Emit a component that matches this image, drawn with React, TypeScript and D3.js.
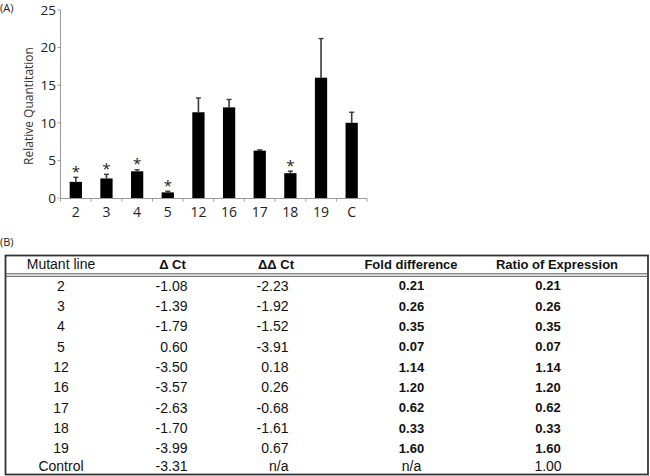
import React from 'react'
import * as d3 from 'd3'

// panel A: relative quantitation per mutant line
const categories = ['2', '3', '4', '5', '12', '16', '17', '18', '19', 'C']
const quantValues = [2.15, 2.6, 3.55, 0.75, 11.4, 12.05, 6.3, 3.3, 16.0, 10.0]
const quantErrors = [0.6, 0.55, 0.2, 0.15, 1.9, 1.05, 0.1, 0.27, 5.2, 1.4]
const significant = ['2', '3', '4', '5', '18']
const yTicks = [0, 5, 10, 15, 20, 25]

// panel B: table
const tableHeaders = ['Mutant line', 'Δ Ct', 'ΔΔ Ct', 'Fold difference', 'Ratio of Expression']
const mutantLines = ['2', '3', '4', '5', '12', '16', '17', '18', '19', 'Control']
const deltaCt = ['-1.08', '-1.39', '-1.79', '0.60', '-3.50', '-3.57', '-2.63', '-1.70', '-3.99', '-3.31']
const deltaDeltaCt = ['-2.23', '-1.92', '-1.52', '-3.91', '0.18', '0.26', '-0.68', '-1.61', '0.67', 'n/a']
const foldDifference = ['0.21', '0.26', '0.35', '0.07', '1.14', '1.20', '0.62', '0.33', '1.60', 'n/a']
const ratioOfExpression = ['0.21', '0.26', '0.35', '0.07', '1.14', '1.20', '0.62', '0.33', '1.60', '1.00']

const CHART_FONT = '"Open Sans", sans-serif'
const TABLE_FONT = '"Liberation Sans", Arial, sans-serif'

export default function App() {
  const width = 650
  const height = 476

  // chart scales
  const x = d3.scaleBand<string>()
    .domain(categories)
    .range([60.5, 367])
    .paddingInner(0.6)
    .paddingOuter(0.3)
  const y = d3.scaleLinear().domain([0, 25]).range([198, 10])
  const step = x.step()
  const boundaries = d3.range(categories.length + 1).map(i => 60.5 + i * step)

  // table layout
  const tableLeft = 5.5
  const tableRight = 648
  const tableTop = 255.5
  const tableBottom = 474.5
  const rowY = d3.scaleLinear().domain([0, 8]).range([285.7, 448.3])
  const rowPos = (i: number) => (i < 9 ? rowY(i) : rowY(8) + 17.4)

  const columns = [
    { hx: 61, vx: 61, anchor: 'middle', values: mutantLines, bold: false },
    { hx: 172.5, vx: 187.5, anchor: 'end', values: deltaCt, bold: false },
    { hx: 276, vx: 288.5, anchor: 'end', values: deltaDeltaCt, bold: false },
    { hx: 411, vx: 411.5, anchor: 'middle', values: foldDifference, bold: true },
    { hx: 557, vx: 548, anchor: 'middle', values: ratioOfExpression, bold: true },
  ]

  return (
    <svg
      width={width}
      height={height}
      style={{ position: 'absolute', left: 0, top: 0, background: '#fff' }}
    >
      {/* panel label A */}
      <text x={0} y={12} fontFamily={CHART_FONT} fontSize={11} fill="#222">(A)</text>

      {/* y axis */}
      <line x1={60.5} x2={60.5} y1={y(25)} y2={y(0)} stroke="#9a9a9a" strokeWidth={1} />
      {yTicks.map(t => (
        <g key={t}>
          <line x1={57.5} x2={60.5} y1={y(t)} y2={y(t)} stroke="#9a9a9a" />
          <text x={56} y={y(t)} dy="0.36em" textAnchor="end" fontFamily={CHART_FONT} fontSize={13.5} fill="#222">
            {t}
          </text>
        </g>
      ))}
      <text
        transform={`translate(29,${(y(0) + y(25)) / 2 + 2}) rotate(-90)`}
        textAnchor="middle"
        dy="0.35em"
        fontFamily={CHART_FONT}
        fontSize={12}
        fill="#333"
      >
        Relative Quantitation
      </text>

      {/* x axis */}
      <line x1={60.5} x2={367} y1={y(0) + 0.5} y2={y(0) + 0.5} stroke="#9a9a9a" />
      {boundaries.map((b, i) => (
        <line key={i} x1={b} x2={b} y1={y(0) + 0.5} y2={y(0) + 3.5} stroke="#9a9a9a" />
      ))}
      {categories.map(c => (
        <text
          key={c}
          x={(x(c) ?? 0) + x.bandwidth() / 2}
          y={212}
          dy="0.36em"
          textAnchor="middle"
          fontFamily={CHART_FONT}
          fontSize={14}
          fill="#222"
        >
          {c}
        </text>
      ))}

      {/* bars, error bars, asterisks */}
      {categories.map((c, i) => {
        const bx = x(c) ?? 0
        const cx = bx + x.bandwidth() / 2
        const top = y(quantValues[i])
        const errTop = y(quantValues[i] + quantErrors[i])
        return (
          <g key={c}>
            <line x1={cx} x2={cx} y1={top} y2={errTop} stroke="#3a3a3a" strokeWidth={1.6} />
            <line x1={cx - 2.5} x2={cx + 2.5} y1={errTop} y2={errTop} stroke="#3a3a3a" strokeWidth={1.4} />
            <rect x={bx} y={top} width={x.bandwidth()} height={y(0) - top} fill="#000" />
            {significant.includes(c) && (
              <text x={cx} y={errTop - 0.5} textAnchor="middle" fontFamily={CHART_FONT} fontSize={15} fill="#222">*</text>
            )}
          </g>
        )
      })}

      {/* panel label B */}
      <text x={0} y={246} fontFamily={CHART_FONT} fontSize={11} fill="#222">(B)</text>

      {/* table frame */}
      <rect
        x={tableLeft}
        y={tableTop}
        width={tableRight - tableLeft}
        height={tableBottom - tableTop}
        fill="none"
        stroke="#333"
        strokeWidth={1.8}
      />
      <line x1={tableLeft} x2={tableRight} y1={273.8} y2={273.8} stroke="#555" strokeWidth={1} />
      <line x1={tableLeft} x2={tableRight} y1={276.3} y2={276.3} stroke="#555" strokeWidth={1} />

      {/* header */}
      {columns.map((col, j) => (
        <text
          key={j}
          x={col.hx}
          y={264.5}
          dy="0.35em"
          textAnchor="middle"
          fontFamily={TABLE_FONT}
          fontSize={j === 0 ? 14 : 13}
          fontWeight={j === 0 ? 'normal' : 'bold'}
          fill="#111"
        >
          {tableHeaders[j]}
        </text>
      ))}

      {/* rows */}
      {mutantLines.map((_, i) =>
        columns.map((col, j) => (
          <text
            key={`${i}-${j}`}
            x={col.vx}
            y={rowPos(i)}
            dy="0.35em"
            textAnchor={col.anchor}
            fontFamily={TABLE_FONT}
            fontSize={col.bold && i < 9 ? 13 : 14}
            fontWeight={col.bold && i < 9 ? 'bold' : 'normal'}
            fill="#111"
          >
            {col.values[i]}
          </text>
        ))
      )}
    </svg>
  )
}
